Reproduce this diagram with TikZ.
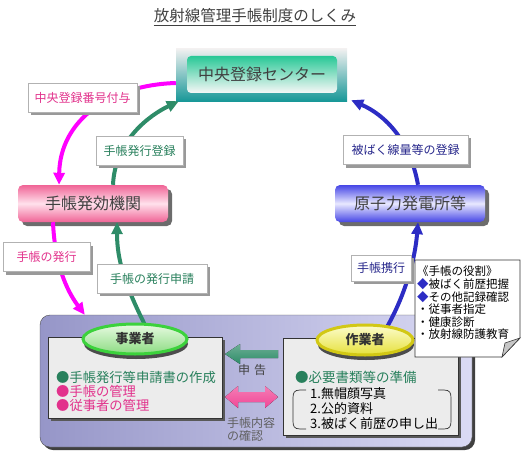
\documentclass[tikz,border=0pt]{standalone}
\usepackage{fontspec}
\setmainfont{Noto Sans CJK JP}
\usetikzlibrary{shapes.geometric,shadows,arrows.meta,calc}
\definecolor{mag}{RGB}{255,0,255}
\definecolor{pinktx}{RGB}{226,50,140}
\definecolor{grn}{RGB}{46,140,104}
\definecolor{grntx}{RGB}{40,128,92}
\definecolor{blu}{RGB}{44,44,196}
\definecolor{blutx}{RGB}{40,40,140}
\definecolor{darktx}{RGB}{64,64,64}
\definecolor{teal1}{RGB}{20,150,150}
\definecolor{mint}{RGB}{40,200,150}
\definecolor{pinkbox}{RGB}{240,100,150}
\definecolor{pinklight}{RGB}{255,225,236}
\definecolor{bluebox}{RGB}{70,70,230}
\definecolor{bluelight}{RGB}{232,232,255}
\definecolor{lav1}{RGB}{150,150,200}
\definecolor{lav2}{RGB}{218,218,244}
\definecolor{gbord}{RGB}{60,210,60}
\definecolor{gtop}{RGB}{232,250,226}
\definecolor{gbot}{RGB}{140,220,130}
\definecolor{ybord}{RGB}{210,200,20}
\definecolor{ytop}{RGB}{252,252,205}
\definecolor{ybot}{RGB}{230,225,60}
\definecolor{pinkarr}{RGB}{240,70,150}
\definecolor{boxgray}{RGB}{236,236,236}
\tikzset{
  bigbox/.style={rounded corners=5pt, minimum width=150pt, minimum height=37pt, inner sep=0pt,
    text=darktx, font=\fontsize{16}{18}\selectfont,
    drop shadow={shadow xshift=4pt, shadow yshift=-4pt, fill=gray!85!black, opacity=1}},
  lbl/.style={draw=gray!60, fill=white, inner sep=0pt, minimum height=29pt,
    font=\fontsize{12}{14}\selectfont,
    drop shadow={shadow xshift=3pt, shadow yshift=-3pt, fill=gray!80, opacity=1}},
  conn/.style={line width=4pt, -{Triangle[length=12pt,width=11pt]}},
  graybox/.style={draw=black!80, fill=boxgray, inner sep=0pt,
    drop shadow={shadow xshift=3pt, shadow yshift=-3pt, fill=gray!70!black, opacity=1}},
  oval/.style={ellipse, inner sep=0pt, line width=3pt, minimum height=30pt,
    font=\fontsize{13}{15}\selectfont\bfseries, text=black!80,
    drop shadow={shadow xshift=1pt, shadow yshift=-5pt, fill=gray!60!black, opacity=1}},
  itm/.style={anchor=west, inner sep=0pt, font=\fontsize{13.3}{15}\selectfont}
}
\begin{document}
\begin{tikzpicture}[x=1pt,y=-1pt]
\useasboundingbox (0,0) rectangle (521,457);
% title
\node[inner sep=0pt, text=darktx, font=\fontsize{15.5}{17}\selectfont] (title) at (255,16) {放射線管理手帳制度のしくみ};
\draw[darktx, line width=0.8pt] ([yshift=-3pt]title.base west) -- ([yshift=-3pt]title.base east);
% top box
\node[top color=gray!12, bottom color=teal1, minimum width=171pt, minimum height=53pt, inner sep=0pt] (ctr) at (261.5,75.5) {};
\node[rounded corners=4pt, top color=mint, bottom color=gray!6, minimum width=150pt, minimum height=37pt, inner sep=0pt,
  text=darktx, font=\fontsize{16}{18}\selectfont] (ctrin) at (262,74.5) {中央登録センター};
% pink and blue boxes
\node[bigbox, top color=pinkbox, bottom color=pinkbox, middle color=pinklight] (hakkou) at (93,203.5) {手帳発効機関};
\node[bigbox, top color=bluebox, bottom color=bluebox, middle color=bluelight] (genshi) at (410,203.5) {原子力発電所等};
% panel
\node[rounded corners=10pt, draw=gray!60!black, left color=lav1, right color=lav2, minimum width=432pt, minimum height=132pt, inner sep=0pt,
  drop shadow={shadow xshift=3pt, shadow yshift=-3pt, fill=gray!50!black, opacity=1}] (panel) at (256,381) {};
% ovals (positions for anchors)
\path (135,339) coordinate (jc) (365,340) coordinate (sc);
% curved arrows
\draw[conn, mag] ([yshift=-7.5pt]ctr.west) .. controls (110,85) and (60,120) .. ([xshift=-34pt]hakkou.north);
\draw[conn, grn] ([xshift=20pt]hakkou.north) .. controls (115,140) and (150,115) .. ([xshift=3pt,yshift=1pt]ctr.south west);
\draw[conn, blu] ([xshift=8pt]genshi.north) .. controls (410,140) and (385,115) .. ([xshift=4pt,yshift=2pt]ctr.south east);
\draw[conn, mag] ([xshift=-40pt]hakkou.south) .. controls (55,270) and (70,295) .. ([xshift=45pt]panel.north west);
\draw[conn, grn] ($(jc)+(10,-14)$) .. controls (125,285) and (117,260) .. ([xshift=24pt]hakkou.south);
\draw[conn, blu] ($(sc)+(22,-13)$) .. controls (405,295) and (415,260) .. ([xshift=8pt]genshi.south);
% labels
\node[lbl, minimum width=109pt, text=pinktx] (l1) at (82.5,98) {中央登録番号付与};
\node[lbl, minimum width=87pt, text=grntx] (l2) at (139.5,150.5) {手帳発行登録};
\node[lbl, minimum width=125pt, text=blutx] (l3) at (405.5,150) {被ばく線量等の登録};
\node[lbl, minimum width=87pt, text=pinktx] (l4) at (46.5,257) {手帳の発行};
\node[lbl, minimum width=110pt, text=grntx] (l5) at (152,278.5) {手帳の発行申請};
\node[lbl, minimum width=60pt, minimum height=26pt, text=blutx] (l6) at (381,268) {手帳携行};
% inner boxes
\node[graybox, minimum width=174pt, minimum height=81pt] (lbox) at (135,377.5) {};
\node[graybox, minimum width=175pt, minimum height=97pt] (rbox) at (370.5,386.5) {};
% ovals
\node[oval, draw=gbord, top color=gtop, bottom color=gbot, minimum width=104pt] (jigyo) at (jc) {事業者};
\node[oval, draw=ybord, top color=ytop, bottom color=ybot, minimum width=96pt] (sagyo) at (sc) {作業者};
% left box items
\node[itm, text=grntx] (i1) at (56,377) {●手帳発行等申請書の作成};
\node[itm, text=pinktx] (i2) at (56,391) {●手帳の管理};
\node[itm, text=pinktx] (i3) at (56,405) {●従事者の管理};
% right box items
\node[itm, text=grntx, font=\fontsize{13.5}{15}\selectfont] (r0) at (295,377) {●必要書類等の準備};
\node[itm, text=black, font=\fontsize{13}{15}\selectfont] (r1) at (310,394) {1.無帽顔写真};
\node[itm, text=black, font=\fontsize{13}{15}\selectfont] (r2) at (310,409) {2.公的資料};
\node[itm, text=black, font=\fontsize{13}{15}\selectfont] (r3) at (310,424) {3.被ばく前歴の申し出};
\draw[black!80, line width=0.7pt] (306,390) -- (300,390) .. controls (294,390) and (293,393) .. (293,398) -- (293,421) .. controls (293,426) and (294,429) .. (300,429) -- (306,429);
\draw[black!80, line width=0.7pt] (438,390) -- (444,390) .. controls (450,390) and (451,393) .. (451,398) -- (451,421) .. controls (451,426) and (450,429) .. (444,429) -- (438,429);
% block arrows between boxes
\fill[top color=grn!70!white, bottom color=grn] (225,354) -- (240,344) -- (240,350) -- (278,350) -- (278,358) -- (240,358) -- (240,364) -- cycle;
\fill[top color=pinkarr!70!white, bottom color=pinkarr] (225,397) -- (238,386) -- (238,392) -- (265,392) -- (265,386) -- (278,397) -- (265,408) -- (265,402) -- (238,402) -- (238,408) -- cycle;
\node[inner sep=0pt, text=darktx, font=\fontsize{12}{14}\selectfont] (shinkoku) at (252,370) {申\hspace{4pt}告};
\node[inner sep=0pt, text=gray!75!black, align=left, font=\fontsize{12}{13}\selectfont] (kakunin) at (251,429) {手帳内容\\の確認};
% callout
\draw[black!80, fill=white, line width=0.6pt] (415,260) -- (520,260) -- (520,338) -- (502,357) -- (415,357) -- cycle;
\filldraw[black!80, fill=gray!45, line width=0.6pt] (502,357) -- (520,338) -- (505,343) -- cycle;
\node[anchor=north west, inner sep=0pt, align=left, font=\fontsize{11.5}{12.6}\selectfont] (role) at (417,266)
  {《手帳の役割》\\{\color{blu}◆}被ばく前歴把握\\{\color{blu}◆}その他記録確認\\・従事者指定\\・健康診断\\・放射線防護教育};
\end{tikzpicture}
\end{document}
